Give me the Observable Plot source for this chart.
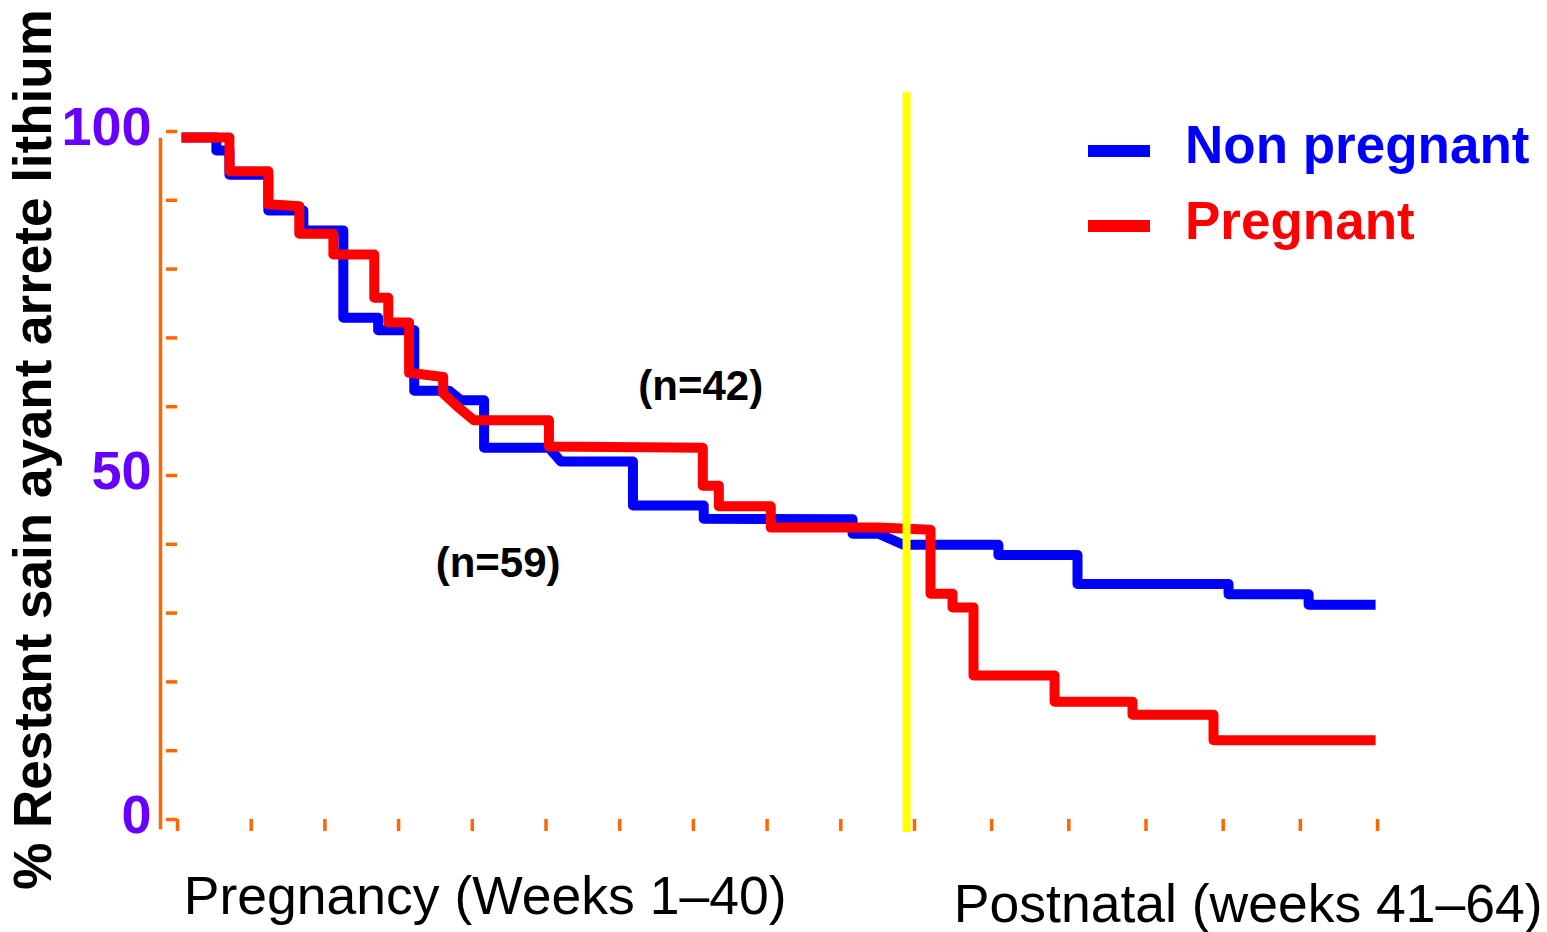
<!DOCTYPE html>
<html>
<head>
<meta charset="utf-8">
<script src="https://cdn.jsdelivr.net/npm/d3@7"></script>
<script src="https://cdn.jsdelivr.net/npm/@observablehq/plot@0.6"></script>
<style>
  html, body { margin: 0; padding: 0; background: #fff; }
  #wrap { position: relative; width: 1547px; height: 932px; font-family: "Liberation Sans", Arial, sans-serif; }
  .leg-line { position: absolute; height: 12px; width: 62px; left: 1088px; }
  .leg-text { position: absolute; left: 1185px; font-size: 53px; font-weight: bold; line-height: 53px; white-space: nowrap; }
</style>
</head>
<body>
<div id="wrap"></div>
<script>
// ---- Data (weeks since start of pregnancy, % remaining well after stopping lithium) ----
const seriesNames = ["Non pregnant", "Pregnant"];
const seriesColors = ["#0000ff", "#ff0000"];

const nonPregWeeks = [0.22, 2.11, 2.11, 2.82, 2.82, 4.93, 4.93, 6.83, 6.83, 9.00, 9.00, 10.89, 10.89, 12.85, 12.85, 14.74, 15.39, 16.64, 16.64, 20.16, 20.81, 24.72, 24.72, 28.56, 28.56, 36.64, 36.64, 38.05, 39.40, 44.35, 44.35, 48.45, 48.45, 56.28, 56.28, 60.43, 60.43, 63.9];
const nonPregPct   = [100, 100, 98.1, 98.1, 94.6, 94.6, 89.4, 89.4, 86.5, 86.5, 73.8, 73.8, 72.0, 72.0, 63.2, 63.2, 61.8, 61.8, 54.9, 54.9, 52.9, 52.9, 46.5, 46.5, 44.6, 44.5, 42.4, 42.4, 40.8, 40.8, 39.3, 39.3, 35.1, 35.1, 33.6, 33.6, 32.1, 32.1];

const pregWeeks = [0.22, 2.82, 2.82, 4.93, 4.93, 6.61, 6.61, 8.46, 8.46, 10.68, 10.68, 11.44, 11.44, 12.57, 12.57, 14.42, 14.42, 15.23, 16.10, 20.16, 20.16, 28.51, 28.51, 29.38, 29.38, 32.20, 32.20, 37.99, 40.83, 40.83, 41.97, 41.97, 43.06, 43.06, 47.26, 47.26, 51.30, 51.30, 55.50, 55.50, 63.9];
const pregPct   = [100, 100, 95.1, 95.1, 90.3, 90.0, 86.0, 86.0, 83.0, 83.0, 76.7, 76.7, 73.1, 73.1, 65.8, 65.2, 62.8, 60.8, 58.9, 58.9, 55.1, 54.9, 49.4, 49.4, 46.4, 46.4, 43.3, 43.3, 43.0, 33.7, 33.7, 31.7, 31.7, 21.8, 21.8, 18.0, 18.0, 16.1, 16.1, 12.4, 12.4];

const deliveryWeek = [39.57];
const deliveryExtent = [-1.0, 106.5];

const xTicks = d3.range(0, 65, 4);
const yTicks = d3.range(0, 101, 10);
const yTickLabels = [0, 50, 100];

const nLabels = ["(n=42)", "(n=59)"];
const nWeeks = [28.4, 17.4];
const nPct = [63.8, 38.1];

const xTitles = ["Pregnancy (Weeks 1\u201340)", "Postnatal (weeks 41\u201364)"];
const xTitleWeeks = [16.7, 57.3];
const yTitle = "% Restant sain ayant arrete lithium";

// ---- Build tables ----
const nonPreg = nonPregWeeks.map((w, i) => ({week: w, pct: nonPregPct[i]}));
const preg = pregWeeks.map((w, i) => ({week: w, pct: pregPct[i]}));
const nTable = nLabels.map((t, i) => ({text: t, week: nWeeks[i], pct: nPct[i]}));
const font = "Liberation Sans, Arial, sans-serif";
const orange = "#ff6600";

const chart = Plot.plot({
  width: 1547,
  height: 932,
  marginLeft: 160,
  marginRight: 170,
  marginTop: 137,
  marginBottom: 107,
  style: {fontFamily: font, background: "white", overflow: "visible"},
  x: {type: "linear", domain: [0, 40, 64], range: [177, 914, 1377]},
  y: {type: "linear", domain: [0, 100], range: [825, 137]},
  marks: [
    Plot.frame({anchor: "left", stroke: orange, strokeWidth: 3.5, dy: 2}),
    Plot.axisY(yTicks, {tickSize: 11, dx: 17, dy: -6, fill: "none", stroke: orange, strokeWidth: 3.5, label: null}),
    Plot.axisX(xTicks, {tickSize: 12, dy: -6, fill: "none", stroke: orange, strokeWidth: 3.5, label: null}),
    Plot.text(yTickLabels, {y: d => d, text: d => String(d), frameAnchor: "left", dx: -9, dy: -9.5,
      textAnchor: "end", fill: "#6600ff", fontSize: 54, fontWeight: "bold"}),
    Plot.text([yTitle], {frameAnchor: "left", textAnchor: "middle", lineAnchor: "middle", rotate: -90, dx: -126, dy: -32,
      fontSize: 53, fontWeight: "bold", fill: "black"}),
    Plot.text([xTitles[0]], {x: () => xTitleWeeks[0], frameAnchor: "bottom", lineAnchor: "middle", dy: 71, fontSize: 53.5, fill: "black"}),
    Plot.text([xTitles[1]], {x: () => xTitleWeeks[1], frameAnchor: "bottom", lineAnchor: "middle", dy: 79, fontSize: 53.5, fill: "black"}),
    Plot.line(nonPreg, {x: "week", y: "pct", stroke: seriesColors[0], strokeWidth: 10, strokeLinejoin: "round", strokeLinecap: "butt"}),
    Plot.line(preg, {x: "week", y: "pct", stroke: seriesColors[1], strokeWidth: 10, strokeLinejoin: "round", strokeLinecap: "butt"}),
    Plot.ruleX(deliveryWeek, {x: d => d, y1: deliveryExtent[0], y2: deliveryExtent[1], stroke: "#ffff00", strokeWidth: 8}),
    Plot.text(nTable, {x: "week", y: "pct", text: "text", fontSize: 42, fontWeight: "bold", fill: "black"})
  ]
});

const wrap = document.getElementById("wrap");
chart.style.position = "absolute";
chart.style.left = "0px";
chart.style.top = "0px";
wrap.appendChild(chart);

// Legend overlay
const legendTops = [[145, 118], [220, 194]];
seriesNames.forEach((name, i) => {
  const ln = document.createElement("div");
  ln.className = "leg-line";
  ln.style.top = legendTops[i][0] + "px";
  ln.style.background = seriesColors[i];
  wrap.appendChild(ln);
  const tx = document.createElement("div");
  tx.className = "leg-text";
  tx.style.top = legendTops[i][1] + "px";
  tx.style.color = seriesColors[i];
  tx.textContent = name;
  wrap.appendChild(tx);
});
</script>
</body>
</html>
